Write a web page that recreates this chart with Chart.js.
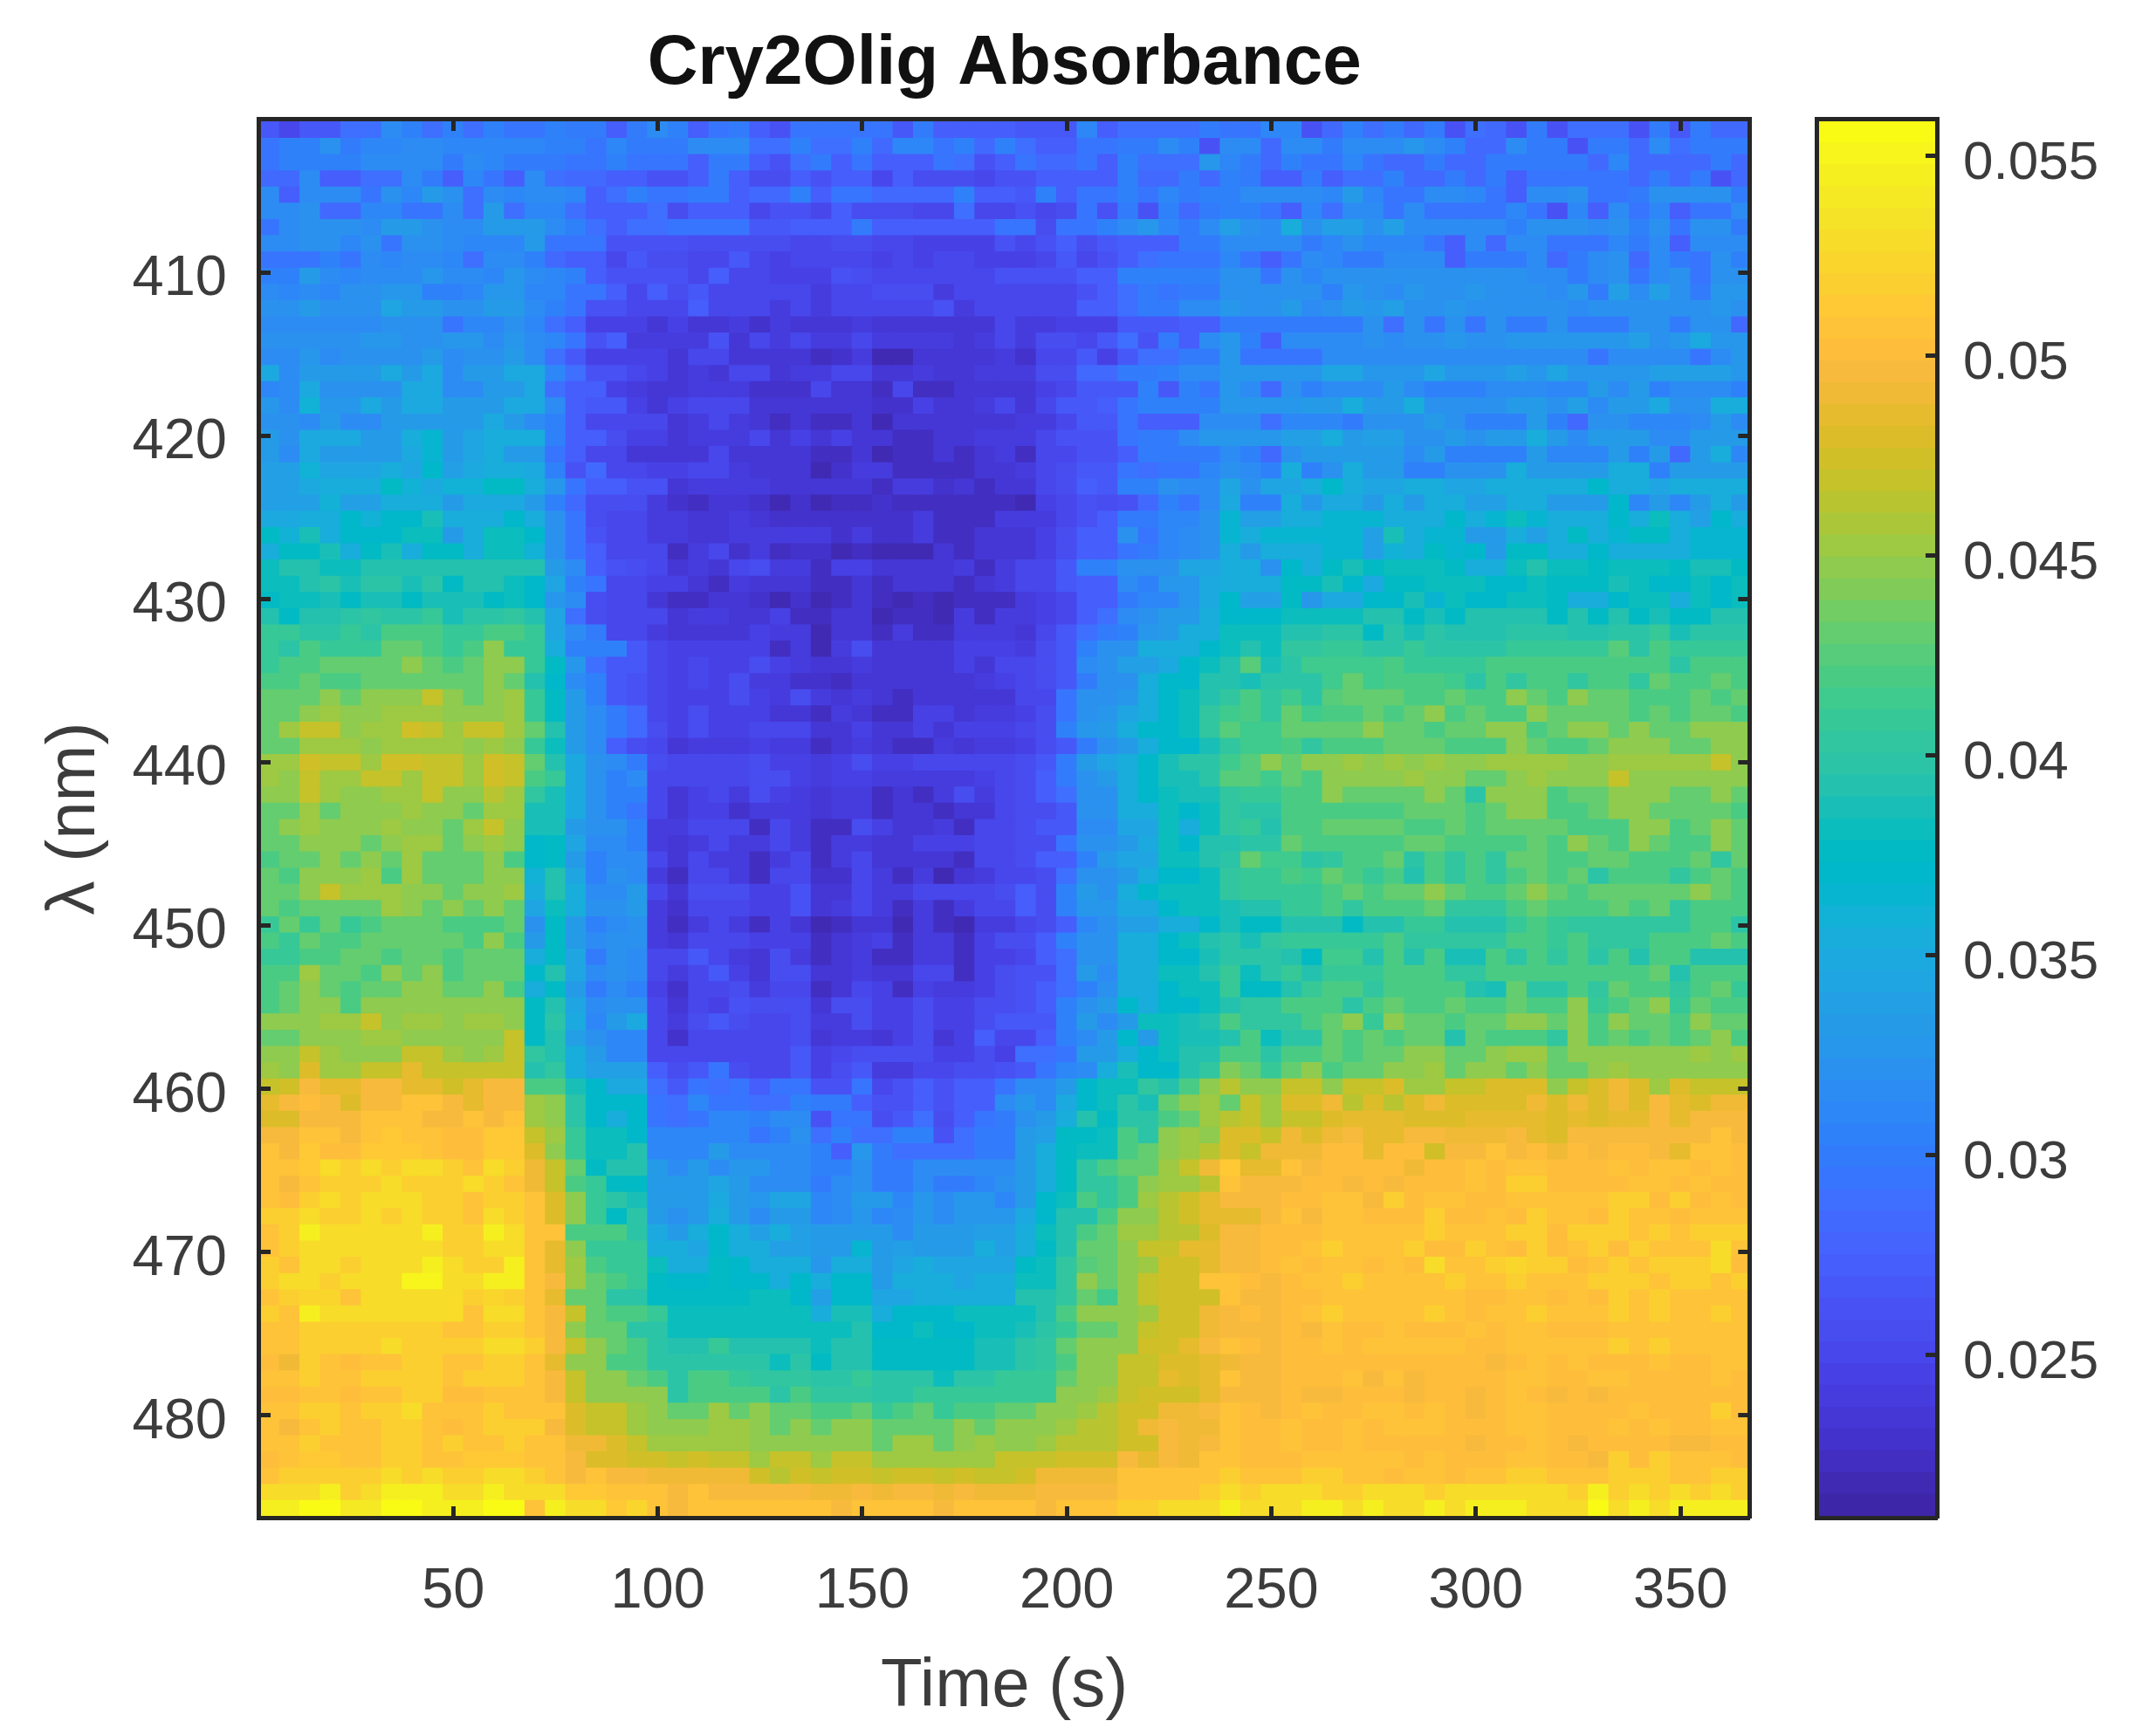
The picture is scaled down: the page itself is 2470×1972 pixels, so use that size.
<!DOCTYPE html>
<html>
<head>
<meta charset="utf-8">
<title>Cry2Olig Absorbance</title>
<script src="https://cdn.jsdelivr.net/npm/chart.js@4"></script>
<style>
  html, body { margin: 0; padding: 0; background: #fff; }
  canvas { position: absolute; top: 0; }
</style>
</head>
<body>
<canvas id="heat" width="2040" height="1972" style="left:0"></canvas>
<canvas id="bar" width="430" height="1972" style="left:2040px"></canvas>
<script>
const times = [5,10,15,20,25,30,35,40,45,50,55,60,65,70,75,80,85,90,95,100,105,110,115,120,125,130,135,140,145,150,155,160,165,170,175,180,185,190,195,200,205,210,215,220,225,230,235,240,245,250,255,260,265,270,275,280,285,290,295,300,305,310,315,320,325,330,335,340,345,350,355,360,365];
const xTicks = [50,100,150,200,250,300,350];
const yTicks = [410,420,430,440,450,460,470,480];
const barTicks = [0.025,0.03,0.035,0.04,0.045,0.05,0.055];
const lambdaStart = 400.75, lambdaStep = 0.99302;
const colorMin = 0.02097, colorMax = 0.05587;

// absorbance x 10^4, one line per wavelength row, one value per time
const absorbance = [
[266,250,268,268,288,288,315,303,290,303,290,303,293,293,306,298,298,273,298,315,303, 271,293,300,271,262,293,293,293,293,293,268,300,275,275,275,275,268,268,268,308,273,288,288,288,288,300, 293,293,308,308,260,283,303,288,298,286,298,262,290,283,262,298,262,288,288,288,262,298,268,298,286,286],
[293,306,306,320,298,308,308,318,318,312,312,312,312,313,303,306,293,308,300,298,298, 315,315,315,288,288,303,288,288,303,283,308,308,293,303,283,303,288,275,275,293,293,300,300,315,303,262, 315,315,283,315,315,298,315,315,315,325,318,304,286,286,315,298,298,262,300,300,286,315,288,300,300,300],
[293,306,306,304,304,314,314,314,316,298,314,312,300,300,300,293,293,306,296,296,296, 273,300,300,273,262,288,298,275,296,275,275,275,296,288,262,275,293,283,283,293,275,303,288,288,288,325, 312,298,283,306,296,296,308,293,283,283,300,286,286,300,300,300,300,300,283,308,283,283,283,283,298,283],
[286,286,315,275,275,288,288,315,298,275,308,293,275,315,290,286,286,271,271,260,260, 275,298,271,258,258,275,260,271,271,250,275,258,258,258,250,262,262,275,275,275,275,303,286,286,298,283, 306,298,275,275,300,273,290,290,306,283,283,300,283,300,273,293,293,293,293,293,286,298,283,298,262,283],
[315,275,318,315,315,293,320,308,335,320,288,318,308,315,315,308,273,290,303,293,293, 300,300,275,286,286,303,275,293,293,283,283,283,283,303,275,275,268,303,275,293,293,303,293,308,300,306, 306,318,318,318,318,312,335,308,296,296,318,318,308,293,273,318,318,322,296,296,298,320,320,320,320,298],
[318,318,320,286,286,308,308,293,293,315,288,332,288,308,308,290,273,271,271,288,258, 275,275,275,250,262,262,250,275,258,258,258,248,248,288,250,250,262,248,255,293,260,298,260,303,283,298, 306,306,293,271,308,290,315,315,293,315,293,293,293,293,312,296,262,308,273,315,293,308,275,293,293,315],
[293,315,322,322,322,315,332,332,320,315,315,332,332,332,315,303,288,273,288,288,293, 296,296,296,268,268,273,273,273,300,271,275,275,275,275,275,293,293,255,293,293,306,318,328,312,300,315, 340,322,315,355,320,338,338,320,340,318,318,318,318,318,306,322,322,322,315,322,303,322,293,320,320,298],
[315,315,322,322,308,320,293,320,320,315,312,312,312,330,293,293,293,262,262,262,262, 258,258,258,258,258,250,248,258,258,248,248,245,245,245,245,262,250,262,273,255,268,275,275,275,298,298, 318,318,315,315,298,313,320,313,313,313,293,275,315,283,315,315,293,293,293,308,298,315,275,315,315,315],
[293,293,293,306,293,318,308,318,318,308,288,315,315,306,283,271,271,250,268,255,255, 250,250,268,250,245,250,250,250,250,245,250,245,250,250,245,245,245,250,268,252,262,273,288,293,293,293, 308,296,275,293,315,308,298,298,315,315,315,273,298,298,298,315,283,300,315,320,283,315,298,293,320,303],
[306,306,332,315,308,318,318,318,328,315,315,308,328,315,312,303,275,262,262,262,262, 252,271,250,250,247,247,247,262,255,250,250,248,248,248,248,262,262,262,262,271,275,303,303,303,303,303, 320,320,296,320,308,320,320,320,320,320,320,320,320,320,320,315,315,300,315,322,293,315,320,293,322,322],
[315,308,318,308,322,322,328,328,303,303,312,326,326,308,308,296,296,273,250,271,255, 268,250,250,250,250,250,238,250,250,255,255,255,240,250,250,250,250,250,250,262,273,288,298,293,298,298, 320,320,320,320,320,303,325,320,315,325,320,320,328,320,322,322,318,325,298,340,315,340,322,298,325,325],
[320,320,332,322,322,322,345,332,332,320,320,332,332,318,303,296,262,262,250,250,250, 271,252,252,252,240,248,238,250,252,252,252,252,262,238,250,250,250,250,250,271,271,288,300,300,315,315, 325,320,320,335,315,322,332,325,338,322,322,325,320,320,322,322,322,318,320,320,320,320,320,322,325,320],
[318,318,318,318,318,318,320,320,320,296,313,313,320,313,290,273,245,247,243,232,243, 232,232,238,228,240,232,232,232,242,232,232,232,232,232,232,252,240,240,244,246,246,268,268,268,275,275, 298,298,298,298,298,298,298,320,290,320,296,320,296,320,298,298,320,298,298,298,320,320,298,320,320,285],
[322,322,322,322,322,328,328,320,320,328,328,315,328,315,312,293,262,275,240,240,240, 242,260,232,250,240,250,240,240,250,240,240,240,240,232,238,252,238,255,255,248,268,288,262,300,275,315, 325,303,273,318,318,318,315,322,318,322,320,325,320,320,325,325,325,325,325,325,340,320,325,350,325,325],
[318,318,325,315,322,322,322,322,332,318,322,322,332,315,290,268,244,244,244,244,233, 250,250,234,234,234,234,222,228,240,220,220,232,232,232,232,238,230,250,250,268,245,268,288,288,298,298, 325,296,296,296,296,315,315,315,315,315,315,315,315,315,315,318,318,315,293,315,315,315,315,293,315,325],
[350,315,330,330,330,330,350,330,348,318,332,332,350,350,308,288,262,262,250,244,233, 238,234,250,250,234,242,242,252,252,234,234,240,232,232,240,240,240,255,255,283,283,300,300,303,315,315, 328,328,328,328,328,342,342,325,325,325,342,325,325,325,340,325,345,328,328,328,328,338,338,338,338,328],
[308,318,350,320,320,320,320,348,348,318,318,330,330,350,288,271,271,246,240,233,233, 240,240,240,228,228,228,250,232,232,224,250,226,226,232,232,232,232,244,250,268,268,268,303,268,303,293, 325,315,283,322,306,315,315,315,330,315,306,306,306,315,315,318,308,308,330,315,330,303,315,315,315,303],
[328,318,358,328,328,348,335,348,348,332,332,332,350,350,315,271,267,267,246,233,243, 250,250,250,235,235,235,235,235,235,228,228,244,232,232,238,250,236,250,268,268,273,296,303,303,303,303, 325,325,325,325,335,335,355,332,332,355,322,322,322,322,335,335,322,340,318,332,332,350,322,322,355,355],
[322,322,318,332,315,315,335,335,335,335,335,350,332,318,303,271,250,250,250,250,233, 238,250,238,232,222,232,225,225,232,220,234,234,234,234,234,234,240,240,250,268,268,296,275,275,275,315, 315,315,288,308,308,308,300,320,320,320,332,320,303,303,303,332,303,283,322,322,308,308,308,315,332,315],
[335,320,350,350,350,335,335,355,364,330,346,356,356,356,306,271,271,255,245,245,233, 240,240,240,250,232,244,236,244,236,236,226,226,232,232,240,240,240,250,262,262,262,293,298,298,315,328, 328,328,328,338,338,355,335,338,338,322,322,335,322,335,335,355,335,315,335,335,335,315,315,335,335,335],
[335,318,350,335,335,335,335,350,364,330,346,356,335,335,293,271,250,250,232,232,232, 232,250,232,232,232,232,226,226,232,220,226,226,232,224,232,240,226,250,250,262,262,275,298,298,298,298, 315,303,283,320,330,330,330,330,330,315,332,303,303,303,303,332,308,308,308,332,303,335,283,332,355,308],
[340,340,358,345,345,345,356,345,370,340,350,355,355,348,306,262,283,253,253,245,245, 250,250,240,232,232,232,218,228,238,238,226,226,226,226,232,232,240,250,255,268,268,293,288,293,293,308, 320,315,303,355,303,320,355,332,332,303,303,322,322,322,355,335,335,335,335,355,355,303,332,332,332,332],
[340,340,350,356,356,356,374,358,348,358,358,374,374,355,325,293,273,273,262,262,236, 240,240,240,240,236,236,236,236,236,226,240,240,228,236,226,236,236,250,255,273,268,303,303,322,315,315, 345,322,345,345,355,372,355,345,345,355,355,345,345,355,355,355,355,355,370,355,355,345,355,355,355,355],
[340,340,340,358,338,338,356,356,356,335,348,348,348,335,306,283,255,255,255,240,228, 226,236,236,228,220,228,216,224,224,228,222,222,222,222,226,226,216,245,250,262,255,262,283,303,293,315, 350,303,303,355,325,350,350,330,355,330,355,355,340,340,355,355,335,335,335,370,308,330,308,330,355,330],
[348,348,356,356,370,358,372,372,385,356,356,356,370,356,320,293,255,250,250,240,238, 232,232,242,236,228,228,228,228,228,228,228,238,226,226,226,238,238,242,250,262,275,298,298,308,308,322, 366,340,340,356,356,367,367,367,355,355,355,372,355,367,380,366,356,356,356,370,355,380,355,340,370,355],
[374,358,385,356,372,372,372,380,380,335,356,382,382,370,320,293,262,250,250,240,238, 232,232,242,238,238,238,238,228,240,228,228,238,226,226,236,236,236,245,258,275,275,320,293,308,315,322, 366,355,367,367,367,367,367,340,385,355,366,366,335,335,355,340,355,374,355,367,378,378,355,366,366,366],
[356,374,374,385,355,374,385,354,374,374,355,382,382,358,320,293,273,250,250,250,226, 240,250,230,238,226,228,228,220,226,220,220,220,232,222,236,236,236,245,258,275,275,293,298,308,315,322, 355,335,355,355,355,366,366,340,361,355,378,366,370,335,378,378,355,355,370,355,355,355,355,366,366,366],
[380,392,392,380,380,390,390,390,390,390,390,390,390,390,330,315,273,262,255,250,232,240,232,250, 255,240,240,225,245,245,232,232,232,232,240,222,240,250,250,268,303,303,322,322,322,345,345,355, 356,320,370,355,374,385,374,380,380,380,374,355,355,380,390,380,380,374,380,380,380,374,385,385,374],
[380,380,390,400,388,400,400,388,400,378,390,390,382,372,345,303,293,250,250,243,243,234,225,240, 232,232,232,224,224,232,224,234,234,234,224,232,240,250,250,268,275,275,315,303,328,328,348,355, 355,355,374,374,385,372,350,374,374,382,382,382,372,372,382,374,374,374,388,382,372,372,382,370,382],
[374,380,380,388,378,388,388,378,388,388,388,374,384,372,325,315,258,250,250,232,225,225,236,236, 228,218,228,218,225,232,224,216,222,216,224,224,224,240,245,250,275,275,298,308,308,328,348,370, 340,340,374,325,350,350,372,372,385,367,382,370,370,382,382,374,355,355,370,382,382,355,382,372,382],
[390,378,390,390,398,405,398,398,408,385,398,398,405,390,345,288,258,250,250,250,234,242,242,232, 232,245,222,222,232,232,218,224,224,216,238,222,240,240,245,250,275,288,315,320,335,335,355,370, 370,370,382,382,382,382,392,392,378,388,375,390,390,390,390,378,392,378,395,374,385,378,378,390,390],
[410,410,398,398,408,398,418,418,418,408,408,420,420,410,345,318,298,250,250,240,235,235,235,235, 245,240,240,218,232,232,225,240,225,225,238,238,238,232,250,268,288,298,303,325,335,355,355,382, 380,380,392,392,400,400,378,400,385,400,390,390,390,400,400,400,390,390,400,400,410,385,400,400,400],
[410,398,420,410,410,410,430,430,418,408,420,445,410,410,355,303,303,303,268,250,243,243,243,243, 245,225,240,220,240,255,232,232,232,232,245,245,245,240,255,268,303,320,322,355,355,355,370,382, 395,380,405,405,410,410,400,400,410,400,400,400,400,410,410,410,410,410,425,400,420,410,410,410,410],
[408,420,420,430,430,430,430,445,430,420,430,445,445,408,375,325,288,268,268,250,243,250,243,243, 258,245,240,232,232,240,232,232,232,232,245,232,250,250,255,268,315,322,340,340,350,370,380,395, 425,385,400,412,412,412,412,422,410,410,410,410,420,420,420,420,420,420,420,420,420,398,420,420,420],
[420,420,430,420,420,430,430,430,430,430,430,445,430,395,370,318,303,268,262,250,243,250,243,255, 240,240,230,230,222,232,232,232,232,232,232,240,245,250,255,268,298,322,322,355,370,370,390,390, 385,400,400,400,412,428,412,420,420,420,412,398,420,405,420,420,405,420,420,405,432,420,420,432,420],
[432,432,432,445,432,445,445,445,468,445,432,445,455,410,378,330,303,268,262,252,245,245,245,255, 245,240,255,240,232,240,232,224,232,232,232,232,232,250,250,293,320,320,325,355,370,380,390,405, 420,405,412,400,425,432,432,432,420,420,432,420,420,445,432,420,445,432,432,420,420,420,432,420,432],
[432,432,445,455,445,445,455,455,455,448,448,448,455,410,378,332,315,298,283,250,243,255,243,245, 245,235,235,222,240,232,225,225,245,245,232,240,240,245,258,293,320,325,345,355,370,380,405,412, 420,405,432,412,420,420,432,420,432,445,420,432,420,420,445,432,432,432,432,420,432,420,432,432,420],
[432,455,468,468,445,455,455,476,468,455,468,468,455,432,390,332,315,298,283,258,243,255,243,243, 250,250,250,236,236,245,236,236,245,236,245,245,245,250,258,303,328,335,355,370,370,380,405,425, 412,412,432,432,432,432,445,432,432,420,432,432,445,445,420,432,445,445,432,445,432,432,445,445,445],
[432,432,455,455,455,445,455,455,455,455,445,455,445,410,382,332,315,271,258,250,232,240,240,240, 245,240,240,226,232,240,232,222,222,240,232,240,240,245,258,268,298,322,335,355,370,370,385,405, 412,412,420,405,420,420,420,432,432,432,420,420,420,445,432,420,420,432,445,445,445,432,432,445,445],
[455,455,476,468,468,455,476,476,468,468,455,476,468,432,395,350,322,315,298,255,250,250,250,250, 258,245,245,238,245,258,245,245,250,250,250,250,252,258,268,298,335,345,355,370,388,398,398,415, 425,448,432,445,445,455,445,455,445,455,445,445,455,455,455,455,445,445,455,455,455,455,455,468,445],
[455,445,468,455,455,468,468,455,468,468,455,476,468,420,410,350,322,303,315,250,252,252,252,252, 258,258,245,238,245,245,240,240,240,240,240,245,252,258,271,298,322,335,355,370,388,388,398,425, 425,412,432,420,445,445,445,445,455,445,445,432,432,445,455,445,445,445,468,445,445,445,445,445,445],
[448,448,468,455,445,445,455,455,468,445,445,465,455,405,385,350,322,303,303,250,235,243,252,240, 258,245,240,232,240,240,222,234,222,238,255,240,248,255,271,288,322,322,355,370,382,385,385,405, 410,410,420,420,445,432,432,432,432,445,432,400,445,445,445,420,432,432,445,445,445,432,432,445,432],
[432,432,455,432,445,445,445,455,445,445,432,455,455,385,385,350,322,303,293,250,232,243,243,230, 240,240,240,232,240,240,222,232,232,222,232,232,248,255,255,268,322,322,355,355,382,370,382,405, 398,398,420,420,420,420,420,420,432,432,432,420,432,445,445,420,420,432,445,445,432,432,432,432,420],
[432,445,455,445,445,445,455,445,445,432,455,468,445,385,385,330,322,322,303,240,240,250,250,250, 225,250,240,222,222,255,245,232,232,240,226,248,248,255,268,268,315,315,345,345,382,355,382,405, 410,395,420,420,432,432,432,432,420,420,432,420,432,432,432,432,420,420,420,445,445,420,432,445,432],
[432,432,445,445,445,432,445,455,455,432,445,455,445,370,378,345,318,318,303,240,232,240,250,238, 240,250,240,225,240,240,232,232,245,245,245,248,248,255,255,293,322,322,335,350,382,370,395,395, 398,398,432,420,420,420,420,420,432,432,420,420,420,420,432,420,445,432,420,445,432,420,420,445,432],
[420,432,432,445,432,445,432,455,432,432,432,445,420,370,378,332,303,318,318,248,232,250,240,240, 225,240,250,222,240,250,232,232,232,232,224,250,250,258,271,275,303,335,345,345,382,382,390,400, 432,412,412,398,405,420,420,432,400,420,405,420,405,432,432,420,420,432,432,420,420,420,432,405,432],
[432,420,445,445,445,455,420,455,432,432,432,445,445,358,390,345,303,322,318,238,222,248,250,238, 225,250,250,228,228,250,240,224,240,220,232,240,250,250,258,288,322,322,335,356,370,370,382,405, 410,410,420,412,432,420,408,420,395,420,405,420,405,420,432,420,432,398,420,420,420,405,420,432,420],
[432,432,445,468,455,455,455,445,445,432,445,445,455,355,392,355,315,315,332,250,236,255,255,255, 245,245,262,232,232,248,240,240,250,250,250,252,258,275,258,303,332,322,355,370,382,382,382,405, 408,408,408,408,420,432,420,432,432,445,432,420,420,432,445,432,420,432,432,432,432,432,445,432,420],
[432,420,432,432,432,432,455,445,432,445,432,445,432,345,382,355,320,320,332,240,230,252,252,252, 245,245,262,232,240,248,240,225,240,225,240,250,250,275,258,303,328,328,350,350,370,382,382,388, 395,395,408,408,420,405,420,420,420,432,405,405,405,420,432,420,420,420,432,420,432,402,420,420,420],
[410,432,410,432,410,420,432,432,432,420,420,420,432,320,378,332,303,315,322,238,225,240,250,240, 225,245,232,218,222,232,232,218,240,225,218,240,240,252,255,271,308,320,340,340,355,355,372,385, 378,378,395,395,395,378,392,392,410,410,392,392,392,410,420,410,405,405,405,405,405,405,420,420,398],
[420,410,432,420,420,432,432,432,432,432,420,445,420,335,378,332,318,322,322,240,235,250,250,250, 245,245,245,222,232,240,245,225,240,240,225,245,255,255,275,303,320,320,355,355,370,382,395,398, 388,405,410,410,410,410,410,420,405,405,405,405,405,420,420,408,420,405,405,405,420,420,420,432,420],
[410,410,420,420,432,432,420,432,432,420,432,432,432,353,378,345,300,322,318,250,250,268,250,240, 232,255,240,225,232,240,225,225,240,240,225,245,245,250,275,288,320,320,355,355,370,370,385,398, 398,398,390,375,412,412,395,420,392,420,385,385,420,400,420,405,420,400,420,395,420,420,395,395,395],
[420,420,455,432,432,420,445,432,445,420,432,432,432,370,390,345,315,322,315,250,240,250,268,245, 232,255,255,235,235,240,235,235,250,250,225,245,255,262,262,288,330,315,355,355,382,382,390,410, 380,398,408,395,410,410,410,420,420,420,405,405,420,420,420,420,420,420,420,420,432,395,420,420,420],
[420,432,445,432,420,432,432,445,445,432,432,445,420,355,378,332,300,315,303,245,228,250,250,255, 240,250,250,225,235,252,245,225,245,240,240,245,255,262,275,288,303,322,355,355,370,382,382,410, 375,375,395,410,420,420,405,420,420,420,420,395,385,432,398,398,420,405,432,420,420,405,420,432,410],
[420,432,445,445,420,445,445,445,445,445,445,445,445,378,390,345,315,322,322,250,235,248,245,260, 255,255,255,235,255,255,245,245,255,245,245,255,255,262,275,303,320,330,370,355,370,370,382,395, 405,405,420,420,420,398,420,432,420,420,432,420,420,432,420,420,445,410,420,432,445,410,432,420,420],
[445,445,445,455,455,468,445,455,455,445,455,455,445,378,398,350,308,330,350,250,240,255,268,255, 250,250,258,240,240,255,245,245,255,245,245,255,268,268,268,303,335,315,335,382,382,385,395,420, 405,405,405,420,432,445,410,445,432,432,420,432,432,445,445,432,445,420,445,432,432,420,445,432,432],
[432,432,445,445,445,450,450,445,445,445,445,445,468,378,390,340,322,308,308,250,230,250,250,250, 250,250,255,235,240,240,232,245,255,235,245,271,250,250,275,303,315,330,370,335,382,385,385,395, 420,380,400,400,432,420,432,420,432,432,395,432,420,420,420,405,448,420,432,420,432,420,432,445,420],
[445,445,468,455,445,445,445,468,468,455,445,455,468,405,390,355,335,308,308,250,250,250,250,250, 250,250,268,245,250,255,255,255,255,245,245,255,245,290,290,293,330,330,355,370,382,395,395,420, 420,400,420,420,432,420,432,432,445,445,432,432,445,450,450,432,445,445,445,445,445,445,450,445,452],
[455,448,480,455,455,468,468,485,468,468,468,468,468,390,405,355,340,340,340,271,255,268,293,255, 250,250,268,245,255,268,240,240,250,250,255,258,262,268,293,308,315,355,385,370,370,395,405,440, 432,410,432,445,420,432,432,445,445,455,432,445,445,432,445,432,432,445,450,445,445,445,445,445,445],
[470,476,495,485,485,495,495,485,485,476,485,495,495,420,420,385,370,350,350,288,268,296,288,293, 271,293,293,262,262,293,252,262,275,262,273,273,293,315,315,330,370,382,382,405,395,420,445,465, 445,445,468,468,445,468,468,480,455,455,468,468,478,478,478,445,468,478,488,478,455,480,468,468,468],
[485,495,503,495,478,495,495,505,505,495,485,495,495,455,445,398,370,370,370,293,288,308,296,296, 288,288,303,298,298,275,262,262,275,262,273,273,315,325,315,350,370,382,400,388,430,445,455,430, 470,455,478,478,488,465,478,465,478,488,478,478,478,478,488,478,488,478,488,478,496,485,478,488,490],
[480,480,495,495,495,505,505,508,495,495,505,495,505,455,445,398,370,355,370,293,288,293,308,308, 303,315,315,262,293,293,258,268,288,258,273,293,298,320,335,355,395,374,400,400,420,430,455,465, 470,450,468,468,478,486,486,486,478,478,478,486,486,486,486,478,486,478,486,486,496,486,496,496,496],
[495,495,508,505,495,505,515,505,505,503,503,510,510,468,455,408,380,380,370,312,312,312,312,312, 293,303,320,288,303,288,288,303,303,262,288,298,298,330,340,375,375,382,420,398,445,455,445,480, 478,468,488,478,488,496,486,486,496,496,488,488,488,496,486,478,496,496,496,496,496,496,496,505,496],
[505,495,515,503,503,515,515,515,505,503,503,515,515,478,445,408,380,380,392,312,312,312,332,315, 315,315,315,303,275,328,298,288,288,288,288,298,298,335,355,375,382,382,420,432,445,455,465,480, 468,488,488,488,502,502,486,502,502,476,496,496,506,496,502,488,502,496,502,502,496,484,506,506,503],
[508,508,515,528,518,528,518,528,528,518,508,528,518,488,468,431,378,392,392,330,318,332,315,325, 328,318,318,303,303,320,298,298,315,315,315,315,315,335,355,375,405,420,430,430,455,470,490,510, 485,485,506,496,502,502,502,502,492,503,503,506,503,508,508,503,503,503,506,503,506,506,503,506,503],
[508,495,505,518,518,518,528,518,518,518,528,518,505,488,468,420,408,378,378,332,332,332,345,332, 318,318,318,300,315,320,298,298,315,298,298,308,320,330,355,375,405,405,420,445,455,455,465,505, 496,496,496,502,502,496,502,496,503,503,503,506,503,520,520,503,503,503,503,506,506,503,506,503,503],
[505,503,518,528,518,528,528,528,518,518,505,518,518,505,478,445,408,400,385,332,332,332,348,332, 328,345,345,308,315,332,332,308,325,315,325,328,308,330,370,380,420,405,420,455,465,476,485,495, 496,496,503,503,506,506,496,520,503,506,506,503,503,506,506,506,506,506,518,518,503,518,503,506,503],
[518,518,528,518,518,528,518,528,518,518,505,528,518,505,478,445,408,378,400,335,322,335,356,332, 318,330,330,308,315,328,308,315,325,315,325,328,328,350,370,395,395,420,445,445,465,476,485,485, 485,496,506,496,506,506,503,503,503,518,503,503,506,503,518,506,506,503,518,506,506,503,506,506,506],
[508,518,545,530,530,530,530,530,545,518,518,545,530,505,505,420,420,420,400,350,332,355,370,355, 340,355,340,330,330,332,332,315,335,335,335,340,340,355,380,395,420,430,455,455,465,465,478,495, 496,503,503,503,506,506,506,506,506,518,506,506,506,518,518,503,518,518,518,506,518,506,518,518,518],
[508,518,530,530,530,530,530,530,530,518,518,530,530,505,485,445,408,408,408,355,355,345,370,355, 355,340,340,330,332,366,335,340,335,335,335,356,340,355,378,395,430,430,445,468,468,485,485,495, 496,503,503,506,518,506,506,506,518,503,503,518,506,503,518,503,506,518,503,518,506,506,506,530,506],
[518,505,530,530,518,530,530,530,545,530,518,518,545,505,485,455,420,408,408,380,355,355,378,370, 355,355,355,325,356,356,335,345,355,345,345,345,345,374,380,405,425,430,445,455,476,476,485,495, 496,503,506,503,506,506,503,506,503,530,506,506,518,525,518,518,503,506,518,506,518,518,518,530,503],
[518,530,530,518,530,530,530,548,548,530,530,545,545,505,495,455,430,420,408,378,370,370,378,370, 372,355,372,355,372,372,332,355,355,355,345,355,355,380,380,405,445,430,445,468,476,476,505,508, 503,496,503,506,506,518,506,506,506,506,518,506,506,518,506,506,506,518,518,518,506,518,518,506,518],
[508,518,525,525,505,530,530,530,530,530,518,525,518,505,485,430,430,398,398,378,378,378,378,378, 380,380,372,340,372,372,345,345,355,355,355,355,355,390,390,405,430,415,445,468,476,476,476,505, 496,496,503,503,506,506,506,506,506,506,506,503,503,506,506,503,506,503,518,506,518,506,506,506,506],
[518,505,545,530,530,530,530,530,530,530,505,530,530,505,495,468,430,420,420,410,382,382,382,382, 380,380,380,355,385,385,355,370,370,370,382,382,382,382,395,420,445,445,445,455,476,476,488,496, 503,496,503,506,518,506,506,506,506,518,506,503,506,506,518,506,506,506,518,506,518,506,506,518,506],
[505,505,518,518,518,518,518,518,518,505,505,518,518,505,495,445,430,430,400,398,382,382,382,382, 380,380,382,382,382,392,370,370,382,370,370,382,382,385,398,410,432,432,445,468,476,476,488,496, 496,496,503,496,506,503,503,506,503,503,503,506,503,506,506,503,503,503,506,506,506,506,506,506,506],
[505,505,518,518,518,518,530,518,518,518,518,530,530,518,495,468,448,430,420,398,395,395,410,395, 392,392,392,382,392,392,378,378,378,378,378,388,388,398,405,432,445,445,445,476,476,486,495,505, 503,496,503,503,506,503,506,506,506,506,506,503,503,506,506,506,506,506,518,506,518,506,506,506,506],
[500,490,518,505,503,505,505,518,518,505,505,518,518,505,485,445,445,420,420,400,398,398,398,398, 398,382,398,378,392,392,378,378,378,378,378,388,388,398,405,420,445,445,468,468,478,478,485,490, 496,496,503,503,503,503,503,503,503,503,503,503,496,503,506,503,506,503,503,503,506,503,503,506,506],
[505,505,518,505,505,518,518,518,518,505,518,518,518,505,495,468,445,445,430,420,398,420,420,410, 405,405,405,398,398,410,398,398,398,382,398,398,410,410,410,432,445,445,468,468,485,478,485,505, 496,496,503,503,503,506,494,506,496,503,503,503,503,506,506,503,503,506,506,503,503,503,503,506,503],
[503,503,505,505,500,505,505,518,518,500,500,505,505,505,495,468,445,445,445,445,398,420,420,420, 420,398,420,405,405,405,398,398,410,410,410,410,410,410,410,445,445,455,470,476,476,476,485,496, 496,496,503,496,496,503,503,503,496,503,503,494,503,506,503,496,503,494,503,503,503,503,503,503,503],
[505,508,518,518,505,518,518,528,505,505,505,518,505,505,505,480,468,468,450,445,430,430,450,430, 445,430,430,420,420,430,410,420,430,410,420,420,430,430,445,448,455,465,476,476,488,488,496,505, 503,496,503,506,503,503,506,506,503,506,503,494,503,506,506,503,503,503,503,506,503,503,503,518,503],
[505,495,505,518,505,505,518,518,505,500,505,518,518,518,495,480,468,468,455,445,445,445,455,455, 445,432,445,432,445,445,430,430,430,430,445,430,445,445,445,455,465,465,476,488,496,488,488,505, 503,503,506,503,503,506,503,506,506,506,503,503,503,506,506,503,503,503,506,503,506,503,503,506,506],
[505,505,518,505,505,505,518,518,505,518,505,505,518,505,505,490,490,478,468,455,455,455,455,455, 445,445,445,445,445,445,432,452,452,432,445,455,445,445,455,465,465,465,476,476,496,488,496,505, 503,503,506,503,503,506,503,503,503,503,503,494,503,503,506,503,494,503,503,503,503,494,494,503,503],
[503,505,515,515,505,505,518,518,505,505,515,515,515,505,505,495,480,480,476,476,468,476,468,468, 455,468,468,455,468,468,452,455,455,455,455,455,468,468,468,476,476,476,496,485,496,488,505,505, 503,503,503,506,506,506,506,506,503,506,503,503,503,506,506,503,503,494,518,503,518,506,506,506,503],
[505,518,518,518,518,518,528,518,528,518,518,528,528,518,505,497,505,497,497,488,488,488,488,488, 476,465,476,468,476,476,468,476,476,468,476,468,468,476,488,488,488,488,505,505,505,505,505,518, 506,506,506,518,518,506,506,503,506,506,503,506,506,518,518,506,506,506,518,518,518,506,506,518,518],
[530,530,530,545,518,530,545,545,545,530,530,545,530,530,530,510,510,508,505,505,497,505,497,497, 496,496,496,488,488,496,488,496,496,488,496,488,488,488,496,496,496,496,505,505,505,505,518,530, 518,530,530,530,518,518,530,530,530,518,530,530,530,530,530,530,518,545,518,530,518,530,518,530,518],
[545,545,555,555,540,540,555,555,545,545,545,555,555,505,545,530,530,515,525,505,497,505,505,505, 505,505,505,505,498,505,505,505,505,498,505,505,505,505,498,505,505,505,518,518,530,530,530,545, 530,530,530,545,545,530,545,530,530,545,530,545,545,545,530,530,530,555,530,545,530,545,545,545,545]
];

// parula, 64 steps
const parula = [[.2422,.1504,.6603],[.2504,.165,.7076],[.2578,.1818,.7511],[.2647,.1978,.7952],[.2706,.2147,.8364],[.2751,.2342,.871],[.2783,.2559,.8991],[.2803,.2782,.9221],[.2813,.3006,.9414],[.281,.3228,.9579],[.2795,.3447,.9717],[.276,.3667,.9829],[.2699,.3892,.9906],[.2602,.4123,.9952],[.244,.4358,.9988],[.2206,.4603,.9973],[.1963,.4847,.9892],[.1834,.5074,.9798],[.1786,.5289,.9682],[.1764,.5499,.952],[.1687,.5703,.9359],[.154,.5902,.9218],[.146,.6091,.9079],[.138,.6276,.8973],[.1248,.6459,.8883],[.1113,.6635,.8763],[.0952,.6798,.8598],[.0689,.6948,.8394],[.0297,.7082,.8163],[.0036,.7203,.7917],[.0067,.7312,.766],[.0433,.7411,.7394],[.0964,.75,.712],[.1408,.7584,.6842],[.1717,.767,.6554],[.1938,.7758,.6251],[.2161,.7843,.5923],[.247,.7918,.5567],[.2906,.7973,.5188],[.3406,.8008,.4789],[.3909,.8029,.4354],[.4456,.8024,.3909],[.5044,.7993,.348],[.5616,.7942,.3045],[.6174,.7876,.2612],[.672,.7793,.2227],[.7242,.7698,.191],[.7738,.7598,.1646],[.8203,.7498,.1535],[.8634,.7406,.1596],[.9035,.733,.1774],[.9393,.7288,.21],[.9728,.7298,.2394],[.9956,.7434,.2371],[.997,.7659,.2199],[.9952,.7893,.2028],[.9892,.8136,.1885],[.9786,.8386,.1766],[.9676,.8639,.1643],[.961,.889,.1537],[.9597,.9135,.1423],[.9628,.9373,.1265],[.9691,.9606,.1064],[.9769,.9839,.0805]];
const levelColors = parula.map(c => `rgb(${Math.round(c[0]*255)},${Math.round(c[1]*255)},${Math.round(c[2]*255)})`);

const colorOf = (v) => {
  let k = Math.floor((v - colorMin) / (colorMax - colorMin) * levelColors.length);
  k = Math.max(0, Math.min(levelColors.length - 1, k));
  return levelColors[k];
};

const ink = "#262626", textInk = "#3c3c3c";
const setTicks = (list) => (scale) => { scale.ticks = list.map(value => ({ value })); };
const flat = (prop, size) => (scale) => { scale[prop] = size; };

const heatDatasets = absorbance.map((row, r) => ({
  data: row.map((v, c) => ({
    x: times[c],
    y: [lambdaStart + r * lambdaStep, lambdaStart + (r + 1) * lambdaStep],
  })),
  backgroundColor: row.map(v => colorOf(v / 10000)),
}));

new Chart(document.getElementById("heat"), {
  type: "bar",
  data: { datasets: heatDatasets },
  options: {
    responsive: false,
    animation: false,
    events: [],
    layout: { padding: { right: 33.5 } },
    datasets: { bar: { grouped: false, barPercentage: 1, categoryPercentage: 1, borderWidth: 0, inflateAmount: 0.5 } },
    plugins: {
      legend: { display: false },
      tooltip: { enabled: false },
      title: {
        display: true,
        fullSize: false,
        text: "Cry2Olig Absorbance",
        color: "#111",
        font: { family: "Liberation Sans", size: 80, weight: "bold" },
        padding: { top: 26, bottom: 14.5 },
      },
    },
    scales: {
      x: {
        type: "linear", position: "bottom", offset: false,
        min: 2.45, max: 367,
        afterBuildTicks: setTicks(xTicks),
        afterFit: flat("height", 232.5),
        grid: { offset: false, drawOnChartArea: false, tickLength: -13.5, tickWidth: 5, tickColor: ink, z: 1 },
        border: { color: ink, width: 5, z: 2 },
        ticks: { color: textInk, font: { family: "Liberation Sans", size: 65 }, padding: 59, maxRotation: 0, autoSkip: false },
        title: { display: true, text: "Time (s)", color: textInk, font: { family: "Liberation Sans", size: 78, lineHeight: 1 }, padding: 0 },
      },
      x2: {
        type: "linear", position: "top", offset: false,
        min: 2.45, max: 367,
        afterBuildTicks: setTicks(xTicks),
        afterFit: flat("height", 0),
        grid: { offset: false, drawOnChartArea: false, tickLength: -13.5, tickWidth: 5, tickColor: ink, z: 1 },
        border: { color: ink, width: 5, z: 2 },
        ticks: { display: false, autoSkip: false },
      },
      y: {
        type: "linear", position: "left", reverse: true, beginAtZero: false,
        min: 400.62, max: 486.29,
        afterBuildTicks: setTicks(yTicks),
        afterFit: flat("width", 296.5),
        grid: { drawOnChartArea: false, tickLength: -13.5, tickWidth: 5, tickColor: ink, z: 1 },
        border: { color: ink, width: 5, z: 2 },
        ticks: { color: textInk, font: { family: "Liberation Sans", size: 65 }, padding: 50, labelOffset: 8 },
        title: { display: true, text: "λ (nm)", color: textInk, font: { family: "Liberation Sans", size: 78 }, padding: { top: 40, bottom: 0 } },
      },
      y2: {
        type: "linear", position: "right", reverse: true, beginAtZero: false,
        min: 400.62, max: 486.29,
        afterBuildTicks: setTicks(yTicks),
        afterFit: flat("width", 0),
        grid: { drawOnChartArea: false, tickLength: -13.5, tickWidth: 5, tickColor: ink, z: 1 },
        border: { color: ink, width: 5, z: 2 },
        ticks: { display: false },
      },
    },
  },
});

// colour bar, one floating bar per colormap step
const levelHeight = (colorMax - colorMin) / levelColors.length;
new Chart(document.getElementById("bar"), {
  type: "bar",
  data: {
    labels: [""],
    datasets: levelColors.map((color, k) => ({
      data: [[colorMin + k * levelHeight, colorMin + (k + 1) * levelHeight]],
      backgroundColor: color,
    })),
  },
  options: {
    responsive: false,
    animation: false,
    events: [],
    layout: { padding: { left: 41, top: 136.5, bottom: 232.5 } },
    datasets: { bar: { grouped: false, barPercentage: 1, categoryPercentage: 1, borderWidth: 0, inflateAmount: 0.5 } },
    plugins: { legend: { display: false }, tooltip: { enabled: false } },
    scales: {
      x: {
        afterFit: flat("height", 0),
        grid: { display: false },
        border: { color: ink, width: 5, z: 2 },
        ticks: { display: false },
      },
      x2: {
        type: "category", labels: [""], position: "top",
        afterFit: flat("height", 0),
        grid: { display: false },
        border: { color: ink, width: 5, z: 2 },
        ticks: { display: false },
      },
      yl: {
        type: "linear", position: "left",
        min: colorMin - 0.00005, max: colorMax + 0.00005,
        afterBuildTicks: setTicks(barTicks),
        afterFit: flat("width", 0),
        grid: { display: false },
        border: { color: ink, width: 5, z: 2 },
        ticks: { display: false },
      },
      y: {
        type: "linear", position: "right", beginAtZero: false,
        min: colorMin - 0.00005, max: colorMax + 0.00005,
        afterBuildTicks: setTicks(barTicks),
        afterFit: flat("width", 251),
        grid: { drawOnChartArea: false, tickLength: -13, tickWidth: 5, tickColor: ink, z: 1 },
        border: { color: ink, width: 5, z: 2 },
        ticks: {
          color: textInk,
          font: { family: "Liberation Sans", size: 62 },
          padding: 43,
          labelOffset: 9,
          callback: (v) => String(+v.toFixed(3)),
        },
      },
    },
  },
});

const badRows = absorbance.map((row, r) => row.length === times.length ? -1 : r).filter(r => r >= 0);
if (badRows.length) throw new Error("row length " + badRows.map(r => r + ":" + absorbance[r].length).join(" "));
if (absorbance.length !== 86) throw new Error("rows " + absorbance.length);
</script>
</body>
</html>
